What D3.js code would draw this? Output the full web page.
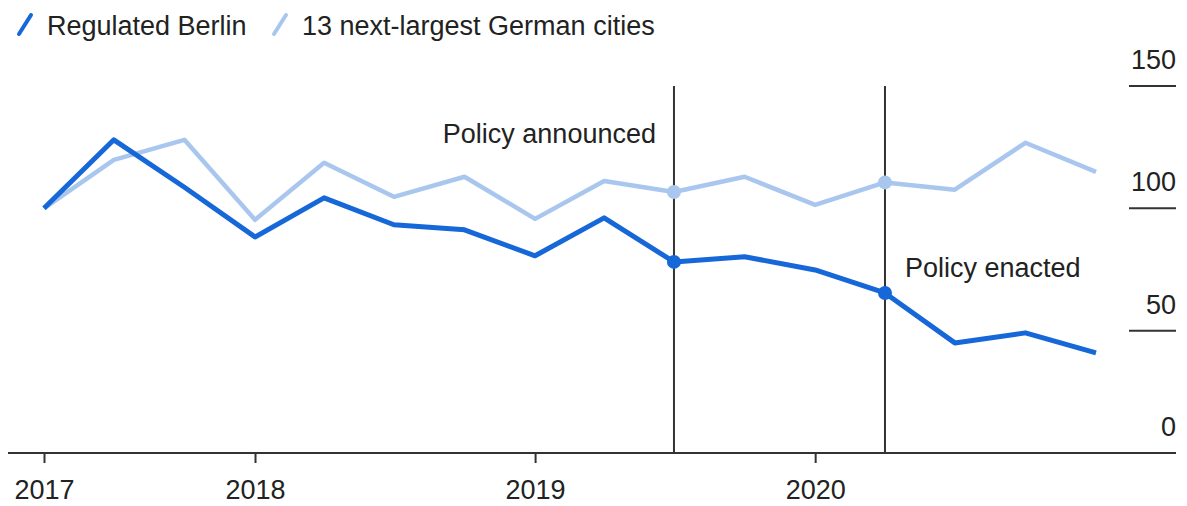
<!DOCTYPE html>
<html>
<head>
<meta charset="utf-8">
<style>
  body { margin: 0; background: #fff; }
  svg { display: block; font-family: "Liberation Sans", Arial, sans-serif; }
  .lbl { fill: #222; font-size: 27px; }
</style>
</head>
<body>
<svg width="1187" height="506"></svg>
<script src="https://d3js.org/d3.v7.min.js"></script>
<script>
// quarterly index values, Q2 2017 = 100
let quarters = ["2017-04-01", "2017-07-01", "2017-10-01", "2018-01-01", "2018-04-01", "2018-07-01",
  "2018-10-01", "2019-01-01", "2019-04-01", "2019-07-01", "2019-10-01", "2020-01-01",
  "2020-04-01", "2020-07-01", "2020-10-01", "2021-01-01"]
let berlin = [100, 128, 108.6, 88.3, 104.3, 93.3, 91.2, 80.6, 96.1, 78.1, 80.2, 74.8, 65.4, 45, 49.1, 40.9]
let others = [100, 119.8, 128, 95.3, 118.6, 104.7, 112.9, 95.7, 111.2, 106.7, 112.9, 101.4, 110.6, 107.6, 126.8, 114.9]

let yTicks = [0, 50, 100, 150]
let xTicks = ["2017-04-01", "2018-01-01", "2019-01-01", "2020-01-01"]
let xTickLabels = ["2017", "2018", "2019", "2020"]

let events = [
  { date: "2019-07-01", label: "Policy announced", side: "left", ty: 143 },
  { date: "2020-04-01", label: "Policy enacted", side: "right", ty: 277 }
]

let seriesNames = ["Regulated Berlin", "13 next-largest German cities"]
let colors = ["#1667d8", "#a9c7ee"]

let parse = d3.timeParse("%Y-%m-%d")
let svg = d3.select("svg")

let x = d3.scaleTime()
  .domain([parse(quarters[0]), parse(quarters[quarters.length - 1])])
  .range([44, 1096])

let y = d3.scaleLinear()
  .domain([0, 150])
  .range([453, 86])

// y axis: labels with a short rule underneath
let yg = svg.append("g")
yTicks.forEach(t => {
  if (t > 0) {
    yg.append("line")
      .attr("x1", 1129).attr("x2", 1176)
      .attr("y1", y(t)).attr("y2", y(t))
      .attr("stroke", "#333").attr("stroke-width", 2)
  }
  yg.append("text")
    .attr("class", "lbl")
    .attr("x", 1176)
    .attr("y", y(t) - 17)
    .attr("text-anchor", "end")
    .text(t)
})

// event lines
events.forEach(e => {
  let ex = x(parse(e.date))
  svg.append("line")
    .attr("x1", ex).attr("x2", ex)
    .attr("y1", y(150)).attr("y2", y(0))
    .attr("stroke", "#333").attr("stroke-width", 2)
  svg.append("text")
    .attr("class", "lbl")
    .attr("x", e.side == "left" ? ex - 18 : ex + 20)
    .attr("y", e.ty)
    .attr("text-anchor", e.side == "left" ? "end" : "start")
    .text(e.label)
})

// x axis
let xAxis = d3.axisBottom(x)
  .tickValues(xTicks.map(parse))
  .tickSize(10)
  .tickFormat((d, i) => xTickLabels[i])

let xg = svg.append("g")
  .attr("transform", `translate(0, ${y(0)})`)
  .call(xAxis)
xg.select(".domain").remove()
xg.selectAll(".tick line").attr("stroke", "#333").attr("stroke-width", 2)
xg.selectAll(".tick text")
  .attr("class", "lbl")
  .attr("fill", "#222")
  .attr("font-size", 27)
  .attr("font-family", "Liberation Sans, Arial, sans-serif")
  .attr("dy", 0)
  .attr("y", 46)

svg.append("line")
  .attr("x1", 8).attr("x2", 1176)
  .attr("y1", y(0)).attr("y2", y(0))
  .attr("stroke", "#333").attr("stroke-width", 2)

// lines
let line = d3.line()
  .x((d, i) => x(parse(quarters[i])))
  .y(d => y(d))

svg.append("path")
  .datum(others)
  .attr("d", line)
  .attr("fill", "none")
  .attr("stroke", colors[1])
  .attr("stroke-width", 4.5)
  .attr("stroke-linejoin", "round")

svg.append("path")
  .datum(berlin)
  .attr("d", line)
  .attr("fill", "none")
  .attr("stroke", colors[0])
  .attr("stroke-width", 5)
  .attr("stroke-linejoin", "round")

// dots where the events cross the lines
events.forEach(e => {
  let i = quarters.indexOf(e.date);
  [others, berlin].forEach((s, k) => {
    svg.append("circle")
      .attr("cx", x(parse(e.date)))
      .attr("cy", y(s[i]))
      .attr("r", 7)
      .attr("fill", k == 0 ? colors[1] : colors[0])
  })
})

// legend
let legendX = [18, 273]
seriesNames.forEach((n, i) => {
  let g = svg.append("g").attr("transform", `translate(${legendX[i]}, 0)`)
  g.append("line")
    .attr("x1", 1).attr("y1", 34)
    .attr("x2", 13).attr("y2", 15)
    .attr("stroke", colors[i]).attr("stroke-width", 4)
    .attr("stroke-linecap", "round")
  g.append("text")
    .attr("class", "lbl")
    .attr("x", 29)
    .attr("y", 35)
    .text(n)
})
</script>
</body>
</html>
